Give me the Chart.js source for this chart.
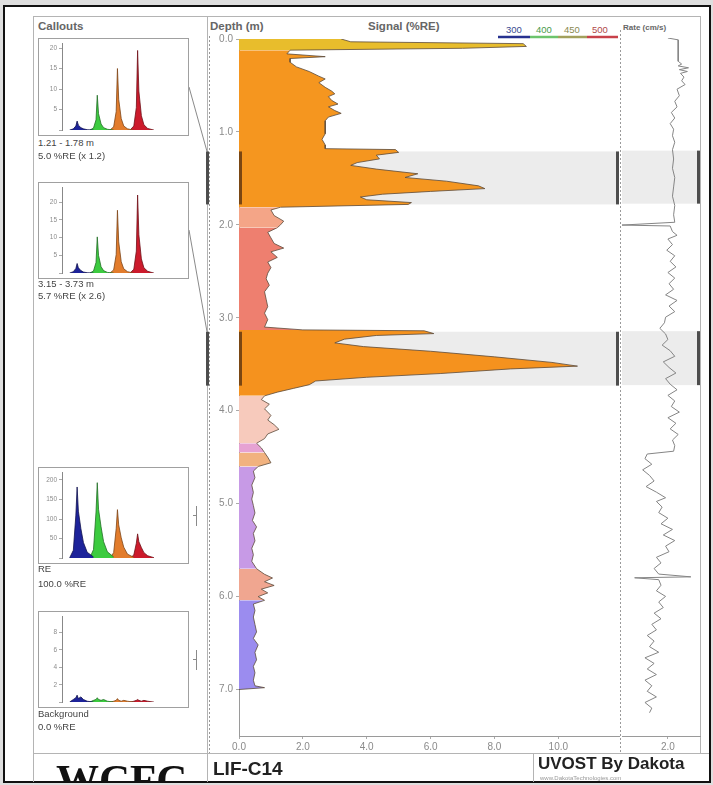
<!DOCTYPE html>
<html>
<head>
<meta charset="utf-8">
<title>LIF-C14</title>
<script src="https://cdn.jsdelivr.net/npm/chart.js@4.4.1/dist/chart.umd.min.js"></script>
<style>
  html, body { margin: 0; padding: 0; }
  body { width: 713px; height: 785px; position: relative; overflow: hidden; background: #dedede; font-family: "Liberation Sans", Arial, sans-serif; }
  #frame { position: absolute; left: 3px; top: 5px; width: 708px; height: 778px; box-sizing: border-box; border: 2px solid #111; background: #fff; }
  canvas, .t, svg, .clip { position: absolute; }
  .t { white-space: nowrap; line-height: 1; }
  .hdr { font-weight: bold; font-size: 11.5px; color: #666; top: 21px; }
  .cap { font-size: 9.5px; color: #444; left: 38px; }
  .leg { font-size: 9.5px; top: 25px; }
</style>
</head>
<body>
<div id="frame"></div>
<svg width="713" height="785" style="left:0;top:0">
  <g stroke="#b4b4b4" stroke-width="1" fill="none">
    <line x1="33.5" y1="16.5" x2="33.5" y2="782"/>
    <line x1="33" y1="16.5" x2="700" y2="16.5"/>
    <line x1="207.5" y1="16" x2="207.5" y2="782"/>
    <line x1="700.5" y1="16" x2="700.5" y2="753"/>
    <line x1="33" y1="753.5" x2="709" y2="753.5"/>
    <line x1="533.5" y1="753" x2="533.5" y2="782"/>
  </g>
  <g stroke="#9a9a9a" stroke-width="1" stroke-dasharray="2,2">
    <line x1="209.5" y1="36" x2="209.5" y2="753"/>
    <line x1="620.5" y1="30" x2="620.5" y2="753"/>
  </g>
  <line id="link1" stroke="#8a8a8a" stroke-width="1"/>
  <line id="link2" stroke="#8a8a8a" stroke-width="1"/>
  <g stroke="#8a8a8a" stroke-width="1">
    <line x1="196.5" y1="506" x2="196.5" y2="526"/>
    <line x1="193" y1="515.5" x2="197" y2="515.5"/>
    <line x1="196.5" y1="650" x2="196.5" y2="670"/>
    <line x1="193" y1="659.5" x2="197" y2="659.5"/>
  </g>
  <g stroke-width="2.5">
    <line x1="498" y1="37" x2="530" y2="37" stroke="#27318f"/>
    <line x1="530" y1="37" x2="558" y2="37" stroke="#6cc46c"/>
    <line x1="558" y1="37" x2="587" y2="37" stroke="#a2a05c"/>
    <line x1="587" y1="37" x2="618" y2="37" stroke="#c8414a"/>
  </g>
</svg>

<div class="t hdr" style="left:38px">Callouts</div>
<div class="t hdr" style="left:210px">Depth (m)</div>
<div class="t hdr" style="left:368px">Signal (%RE)</div>
<div class="t hdr" style="left:623px;top:24px;font-size:8px">Rate (cm/s)</div>
<div class="t leg" style="left:506px;color:#3a4a90">300</div>
<div class="t leg" style="left:536px;color:#4a9a4a">400</div>
<div class="t leg" style="left:564px;color:#8a8a50">450</div>
<div class="t leg" style="left:592px;color:#b04848">500</div>

<canvas id="c1" width="151" height="98" style="left:38px;top:38px"></canvas>
<canvas id="c2" width="151" height="97" style="left:38px;top:182px"></canvas>
<canvas id="c3" width="151" height="97" style="left:38px;top:467px"></canvas>
<canvas id="c4" width="151" height="97" style="left:38px;top:611px"></canvas>

<div class="t cap" style="top:138px">1.21 - 1.78 m</div>
<div class="t cap" style="top:151px">5.0 %RE (x 1.2)</div>
<div class="t cap" style="top:279px">3.15 - 3.73 m</div>
<div class="t cap" style="top:291px">5.7 %RE (x 2.6)</div>
<div class="t cap" style="top:564px">RE</div>
<div class="t cap" style="top:579px">100.0 %RE</div>
<div class="t cap" style="top:709px">Background</div>
<div class="t cap" style="top:722px">0.0 %RE</div>

<canvas id="sig" width="416" height="730" style="left:204px;top:30px"></canvas>
<canvas id="rate" width="83" height="730" style="left:619px;top:30px"></canvas>

<div class="clip" style="left:34px;top:755px;width:172px;height:27px;overflow:hidden">
  <div class="t" style="left:22px;top:3px;font-family:'Liberation Serif',serif;font-weight:bold;font-size:43px;color:#111">WCFC</div>
</div>
<div class="t" style="left:213px;top:759px;font-weight:bold;font-size:19px;color:#222">LIF-C14</div>
<div class="t" style="left:538px;top:755px;font-weight:bold;font-size:17px;color:#222">UVOST By Dakota</div>
<div class="t" style="left:540px;top:775px;font-size:6px;color:#999">www.DakotaTechnologies.com</div>

<script>
// signal log, depth (m) vs signal (%RE)
const signalDepth = [
  0.00, 0.03, 0.05, 0.08, 0.10, 0.12, 0.16, 0.19, 0.21, 0.25,
  0.30, 0.35, 0.40, 0.43, 0.47, 0.52, 0.56, 0.59, 0.62, 0.66,
  0.70, 0.73, 0.77, 0.80, 0.84, 0.88, 0.95, 1.02, 1.08, 1.14,
  1.18, 1.19, 1.22, 1.25, 1.29, 1.33, 1.36, 1.40, 1.45, 1.49,
  1.53, 1.58, 1.61, 1.64, 1.67, 1.70, 1.73, 1.76, 1.78, 1.81,
  1.84, 1.90, 1.96, 2.00, 2.03, 2.08, 2.14, 2.20, 2.25, 2.29,
  2.35, 2.40, 2.46, 2.52, 2.58, 2.65, 2.72, 2.80, 2.88, 2.95,
  3.02, 3.10, 3.13, 3.14, 3.17, 3.19, 3.23, 3.27, 3.31, 3.36,
  3.42, 3.48, 3.52, 3.55, 3.60, 3.64, 3.68, 3.72, 3.76, 3.80,
  3.84, 3.88, 3.93, 3.98, 4.05, 4.10, 4.15, 4.20, 4.25, 4.30,
  4.35, 4.40, 4.45, 4.50, 4.56, 4.60, 4.65, 4.72, 4.80, 4.88,
  4.95, 5.02, 5.10, 5.18, 5.25, 5.32, 5.40, 5.48, 5.55, 5.62,
  5.70, 5.76, 5.80, 5.84, 5.88, 5.92, 5.96, 6.00, 6.04, 6.08,
  6.15, 6.22, 6.30, 6.38, 6.45, 6.52, 6.60, 6.68, 6.75, 6.82,
  6.90, 6.96, 6.98, 7.00
];
const signalValue = [
  3.2, 3.5, 8.9, 9.0, 7.0, 1.6, 1.5, 2.7, 1.6, 1.6,
  1.8, 2.2, 2.5, 2.7, 2.5, 2.7, 2.9, 3.0, 2.8, 2.9,
  3.1, 2.8, 3.0, 3.2, 2.8, 2.7, 2.7, 2.7, 2.6, 2.7,
  2.7, 4.9, 5.0, 4.3, 4.4, 3.7, 3.5, 4.3, 5.6, 5.2,
  6.5, 7.5, 7.7, 6.0, 4.5, 3.8, 4.0, 5.4, 5.3, 1.3,
  1.0, 1.1, 1.4, 1.3, 1.2, 0.9, 1.0, 1.1, 1.4, 1.0,
  1.2, 0.9, 1.0, 0.9, 0.85, 0.95, 0.8, 0.85, 0.9, 0.8,
  0.9, 0.8, 2.0, 5.8, 6.1, 4.3, 3.3, 3.0, 3.9, 6.0,
  8.0, 9.8, 10.6, 8.5, 6.3, 4.0, 2.4, 2.2, 1.7, 1.2,
  0.8, 0.7, 0.95, 0.8, 1.0, 0.9, 1.1, 1.25, 0.9, 0.8,
  0.55, 0.7, 0.8, 0.9, 1.0, 0.6, 0.45, 0.5, 0.4, 0.45,
  0.4, 0.45, 0.5, 0.42, 0.55, 0.45, 0.5, 0.4, 0.45, 0.4,
  0.55, 0.8, 1.05, 0.8, 1.1, 0.7, 0.9, 0.6, 0.8, 0.45,
  0.5, 0.45, 0.5, 0.55, 0.45, 0.6, 0.5, 0.55, 0.45, 0.5,
  0.45, 0.5, 0.8, 0.0
];
// depth zones coloured by dominant wavelength mix
const zoneDepths = [0, 0.12, 1.81, 2.03, 3.13, 3.84, 4.35, 4.45, 4.60, 5.70, 6.04, 7.0];
const zoneColors = ['#e8bd2c', '#f5961f', '#f4a587', '#ee7f6f', '#f5921e', '#f7cabc',
                    '#e6a2d3', '#f1b27f', '#c79ae6', '#f0a690', '#9b8cef'];

// penetration rate
const rateDepth = [
  0.00, 0.02, 0.25, 0.28, 0.30, 0.32, 0.34, 0.36, 0.38, 0.42,
  0.46, 0.50, 0.55, 0.62, 0.68, 0.74, 0.80, 0.86, 0.92, 0.98,
  1.05, 1.12, 1.20, 1.30, 1.40, 1.50, 1.60, 1.70, 1.80, 1.90,
  1.98, 2.01, 2.02, 2.08, 2.12, 2.16, 2.22, 2.28, 2.34, 2.40,
  2.46, 2.52, 2.58, 2.64, 2.70, 2.76, 2.82, 2.88, 2.94, 3.00,
  3.06, 3.12, 3.18, 3.24, 3.30, 3.36, 3.42, 3.48, 3.54, 3.60,
  3.66, 3.72, 3.78, 3.84, 3.90, 3.96, 4.02, 4.08, 4.14, 4.20,
  4.26, 4.32, 4.38, 4.44, 4.47, 4.52, 4.58, 4.64, 4.70, 4.76,
  4.82, 4.88, 4.94, 4.98, 5.04, 5.10, 5.16, 5.22, 5.28, 5.34,
  5.40, 5.46, 5.52, 5.58, 5.64, 5.70, 5.76, 5.79, 5.80, 5.82,
  5.88, 5.94, 6.00, 6.06, 6.12, 6.18, 6.24, 6.30, 6.36, 6.42,
  6.48, 6.54, 6.60, 6.66, 6.72, 6.78, 6.84, 6.90, 6.96, 7.02,
  7.08, 7.14, 7.20, 7.25
];
const rateValue = [
  2.0, 2.45, 2.45, 2.6, 2.45, 2.9, 2.5, 2.85, 2.55, 2.7,
  2.6, 2.75, 2.4, 2.5, 2.3, 2.4, 2.15, 2.3, 2.1, 2.25,
  2.2, 2.3, 2.2, 2.25, 2.2, 2.3, 2.25, 2.2, 2.3, 2.25,
  2.3, 0.0, 2.1, 2.2, 2.4, 2.0, 2.2, 1.95, 2.3, 2.1,
  2.35, 2.0, 2.3, 2.05, 2.25, 1.9, 2.4, 2.05, 2.3, 1.9,
  1.85, 1.65, 1.9, 2.0, 1.75, 2.1, 2.3, 1.8, 2.05, 2.35,
  1.9, 2.1, 2.4, 2.0, 2.3, 2.15, 2.5, 2.0, 2.35, 2.1,
  2.45, 2.2, 2.3, 2.25, 1.1, 1.0, 1.3, 0.9, 1.2, 1.4,
  1.05, 1.5, 1.9, 1.5, 1.75, 1.6, 2.0, 1.7, 2.2, 1.8,
  2.3, 1.9, 2.05, 1.5, 1.7, 1.4, 1.6, 3.0, 0.55, 1.6,
  1.7, 1.5, 1.9, 1.6, 1.8, 1.4, 1.7, 1.3, 1.5, 1.1,
  1.4, 1.2, 1.6, 1.0, 1.4, 1.1, 1.5, 1.0, 1.3, 1.1,
  1.5, 1.0, 1.3, 1.2
];

const depthTicks = [0, 1, 2, 3, 4, 5, 6, 7];
const signalTicks = [0, 2, 4, 6, 8, 10];
const rateTicks = [2];
const calloutRanges = [[1.21, 1.78], [3.15, 3.73]];

// callout waveforms: 4 channels (300/400/450/500 nm), time in ns
const blueTime = [6, 9, 11, 12, 13, 15, 17, 20, 25];
const greenTime = [22, 25, 27, 28, 29, 31, 33, 36, 41];
const orangeTime = [38, 41, 43, 44, 45, 47, 49, 52, 57];
const redTime = [54, 57, 59, 60, 61, 63, 65, 68, 73];

const c1Blue = [0, 0.3, 1.0, 2.2, 1.2, 0.6, 0.3, 0.1, 0];
const c1Green = [0, 0.5, 2.5, 8.5, 4.0, 1.5, 0.6, 0.2, 0];
const c1Orange = [0, 0.8, 4.5, 15.0, 7.5, 2.8, 1.0, 0.3, 0];
const c1Red = [0, 1.0, 5.5, 19.4, 9.5, 3.5, 1.3, 0.4, 0];

const c2Blue = [0, 0.4, 1.3, 2.7, 1.5, 0.7, 0.3, 0.1, 0];
const c2Green = [0, 0.6, 3.0, 10.2, 5.0, 1.8, 0.7, 0.2, 0];
const c2Orange = [0, 0.9, 5.2, 17.7, 8.8, 3.2, 1.2, 0.4, 0];
const c2Red = [0, 1.1, 6.2, 22.0, 10.8, 4.0, 1.5, 0.5, 0];

const reBlue = [0, 20, 110, 182, 120, 75, 40, 15, 3];
const reGreen = [0, 22, 118, 193, 125, 80, 42, 16, 3];
const reOrange = [0, 14, 75, 124, 85, 52, 28, 10, 2];
const reRed = [0, 8, 38, 62, 42, 27, 14, 6, 1];

const bgBlue = [0, 0.3, 0.5, 0.8, 0.4, 0.6, 0.3, 0.1, 0];
const bgGreen = [0, 0.2, 0.3, 0.5, 0.3, 0.2, 0.3, 0.1, 0];
const bgOrange = [0, 0.1, 0.2, 0.4, 0.2, 0.1, 0.2, 0.1, 0];
const bgRed = [0, 0.1, 0.2, 0.3, 0.2, 0.1, 0.2, 0.1, 0];

const callouts = [
  { id: 'c1', max: 21, step: 5, series: [c1Blue, c1Green, c1Orange, c1Red] },
  { id: 'c2', max: 24, step: 5, series: [c2Blue, c2Green, c2Orange, c2Red] },
  { id: 'c3', max: 218, step: 50, series: [reBlue, reGreen, reOrange, reRed] },
  { id: 'c4', max: 9.8, step: 2, series: [bgBlue, bgGreen, bgOrange, bgRed] },
];
const channelTimes = [blueTime, greenTime, orangeTime, redTime];
const channelFill = ['#1d239a', '#3ccb3f', '#e27c2c', '#cc1b2c'];
const channelLine = ['#10124e', '#226e26', '#7e4518', '#6e1018'];

const tickFont = { family: 'Liberation Sans', size: 10 };

// grey highlight bands + dark depth markers for the callout intervals
const bandPlugin = {
  id: 'bands',
  beforeDatasetsDraw(chart, args, opts) {
    const { ctx, chartArea: a } = chart;
    const y = chart.scales.y;
    ctx.save();
    ctx.fillStyle = '#ececec';
    calloutRanges.forEach(r => {
      const y0 = y.getPixelForValue(r[0]);
      const y1 = y.getPixelForValue(r[1]);
      ctx.fillRect(a.left, y0, a.right - a.left - 3, y1 - y0);
    });
    ctx.restore();
  },
  afterDatasetsDraw(chart, args, opts) {
    const { ctx, chartArea: a } = chart;
    const y = chart.scales.y;
    ctx.save();
    calloutRanges.forEach(r => {
      const y0 = y.getPixelForValue(r[0]);
      const y1 = y.getPixelForValue(r[1]);
      (opts.bars || []).forEach(b => {
        const x = b.from === 'right' ? a.right + b.dx : b.from === 'left' ? a.left + b.dx : b.dx;
        ctx.fillStyle = b.color;
        ctx.fillRect(x, y0, b.w, y1 - y0);
      });
    });
    ctx.restore();
  }
};

const boxPlugin = {
  id: 'box',
  afterDraw(chart) {
    const ctx = chart.ctx;
    ctx.save();
    ctx.strokeStyle = '#a0a0a0';
    ctx.lineWidth = 1;
    ctx.strokeRect(0.5, 0.5, chart.width - 1, chart.height - 1);
    ctx.restore();
  }
};

// main signal log
const zoneSets = zoneColors.map((c, i) => {
  const lo = zoneDepths[i], hi = zoneDepths[i + 1];
  const pts = [];
  signalDepth.forEach((d, k) => {
    if (d >= lo - 1e-9 && d <= hi + 1e-9) pts.push({ x: signalValue[k], y: d });
  });
  return {
    data: pts, backgroundColor: c, borderColor: '#5c4a3a', borderWidth: 0.8,
    pointRadius: 0, fill: 'origin', tension: 0
  };
});

const sig = new Chart(document.getElementById('sig'), {
  type: 'line',
  data: { datasets: zoneSets },
  options: {
    indexAxis: 'y',
    responsive: false,
    animation: false,
    layout: { padding: { top: 8, right: 1 } },
    plugins: {
      legend: { display: false },
      tooltip: { enabled: false },
      bands: {
        bars: [
          { dx: 2, w: 3, color: '#4d4d4d' },
          { from: 'left', dx: 0, w: 3, color: '#7a4612' },
          { from: 'right', dx: -3, w: 3, color: '#4d4d4d' }
        ]
      }
    },
    scales: {
      x: {
        type: 'linear', min: 0, max: 11.9,
        afterBuildTicks: s => { s.ticks = signalTicks.map(v => ({ value: v })); },
        ticks: { callback: v => v.toFixed(1), color: '#8a8a8a', font: tickFont, padding: 2, maxRotation: 0, autoSkip: false },
        grid: { drawOnChartArea: false, tickLength: 3, color: '#aaa' },
        border: { color: '#9a9a9a', dash: [2, 2] },
        afterFit: s => { s.height = 24; }
      },
      y: {
        type: 'linear', min: 0, max: 7.5, reverse: true,
        afterBuildTicks: s => { s.ticks = depthTicks.map(v => ({ value: v })); },
        ticks: { callback: v => v.toFixed(1), color: '#8a8a8a', font: tickFont, padding: 3, autoSkip: false },
        grid: { drawOnChartArea: false, tickLength: 3, color: '#aaa' },
        border: { color: '#9a9a9a', dash: [2, 2] },
        afterFit: s => { s.width = 35; }
      }
    }
  },
  plugins: [bandPlugin]
});

// rate log
new Chart(document.getElementById('rate'), {
  type: 'line',
  data: {
    datasets: [{
      data: rateDepth.map((d, i) => ({ x: rateValue[i], y: d })),
      borderColor: '#858585', borderWidth: 1, pointRadius: 0, fill: false, tension: 0
    }]
  },
  options: {
    indexAxis: 'y',
    responsive: false,
    animation: false,
    layout: { padding: { top: 8, right: 2 } },
    plugins: {
      legend: { display: false },
      tooltip: { enabled: false },
      bands: { bars: [{ from: 'right', dx: -3, w: 3, color: '#4d4d4d' }] }
    },
    scales: {
      x: {
        type: 'linear', min: 0, max: 3.4,
        afterBuildTicks: s => { s.ticks = rateTicks.map(v => ({ value: v })); },
        ticks: { callback: v => v.toFixed(1), color: '#8a8a8a', font: tickFont, padding: 2, maxRotation: 0 },
        grid: { drawOnChartArea: false, tickLength: 3, color: '#aaa' },
        border: { color: '#9a9a9a', dash: [2, 2] },
        afterFit: s => { s.height = 24; }
      },
      y: {
        type: 'linear', min: 0, max: 7.5, reverse: true,
        ticks: { display: false },
        grid: { display: false },
        border: { display: false },
        afterFit: s => { s.width = 3; }
      }
    }
  },
  plugins: [bandPlugin]
});

// callout spectra
callouts.forEach(c => {
  new Chart(document.getElementById(c.id), {
    type: 'line',
    data: {
      datasets: c.series.map((vals, k) => ({
        data: channelTimes[k].map((t, i) => ({ x: t, y: vals[i] })),
        backgroundColor: channelFill[k], borderColor: channelLine[k], borderWidth: 0.8,
        pointRadius: 0, fill: 'origin', tension: 0
      }))
    },
    options: {
      responsive: false,
      animation: false,
      layout: { padding: { top: 1, right: 1, bottom: 1 } },
      plugins: { legend: { display: false }, tooltip: { enabled: false } },
      scales: {
        x: { type: 'linear', min: 0, max: 100, display: false },
        y: {
          min: 0, max: c.max,
          ticks: { stepSize: c.step, includeBounds: false, callback: v => (v === 0 ? '' : v), color: '#8c8c8c', font: { size: 6.5 }, padding: 2 },
          grid: { drawOnChartArea: false, tickLength: 3, color: '#aaa' },
          border: { color: '#888' },
          afterFit: s => { s.width = 24; }
        }
      }
    },
    plugins: [boxPlugin]
  });
});

// leader lines from the callout boxes to the depth intervals
const yS = sig.scales.y;
const sigTop = 30;
[['link1', 189, 87, calloutRanges[0][0]], ['link2', 189, 230, calloutRanges[1][0]]].forEach(([id, x1, y1, d]) => {
  const el = document.getElementById(id);
  el.setAttribute('x1', x1);
  el.setAttribute('y1', y1);
  el.setAttribute('x2', 207);
  el.setAttribute('y2', sigTop + yS.getPixelForValue(d));
});
</script>
</body>
</html>
